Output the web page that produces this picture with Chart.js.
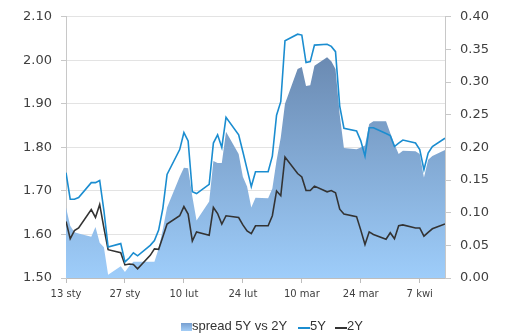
<!DOCTYPE html>
<html>
<head>
<meta charset="utf-8">
<script src="https://cdn.jsdelivr.net/npm/chart.js@4"></script>
<style>
  html, body { margin: 0; padding: 0; background: #fff; }
  #wrap { position: relative; width: 508px; height: 335px; }
  #legend { position: absolute; top: 318px; left: 0; width: 508px; height: 16px;
            font: 13px "Liberation Sans", Arial, sans-serif; color: #333; line-height: 15px; }
  #legend span { position: absolute; top: 0; white-space: nowrap; }
  #legend .box { top: 5px; width: 11px; height: 8px;
                 background: linear-gradient(#779fd0, #a3cdf6); }
  #legend .ln { top: 9px; width: 12px; height: 2px; }
</style>
</head>
<body>
<div id="wrap">
  <canvas id="c" width="508" height="335"></canvas>
  <div id="legend">
    <span class="box" style="left:181px"></span>
    <span style="left:192px">spread 5Y vs 2Y</span>
    <span class="ln" style="left:298px;background:#1b8dd0"></span>
    <span style="left:310px">5Y</span>
    <span class="ln" style="left:335px;background:#333"></span>
    <span style="left:347px">2Y</span>
  </div>
</div>
<script>
// Trading days, 2015
const dates = [
  '2015-01-13','2015-01-14','2015-01-15','2015-01-16','2015-01-19','2015-01-20','2015-01-21','2015-01-22','2015-01-23',
  '2015-01-26','2015-01-27','2015-01-28','2015-01-29','2015-01-30',
  '2015-02-02','2015-02-03','2015-02-04','2015-02-05','2015-02-06',
  '2015-02-09','2015-02-10','2015-02-11','2015-02-12','2015-02-13',
  '2015-02-16','2015-02-17','2015-02-18','2015-02-19','2015-02-20',
  '2015-02-23','2015-02-24','2015-02-25','2015-02-26','2015-02-27',
  '2015-03-02','2015-03-03','2015-03-04','2015-03-05','2015-03-06',
  '2015-03-09','2015-03-10','2015-03-11','2015-03-12','2015-03-13',
  '2015-03-16','2015-03-17','2015-03-18','2015-03-19','2015-03-20',
  '2015-03-23','2015-03-24','2015-03-25','2015-03-26','2015-03-27',
  '2015-03-30','2015-03-31','2015-04-01','2015-04-02','2015-04-03',
  '2015-04-06','2015-04-07','2015-04-08','2015-04-09','2015-04-10',
  '2015-04-13'
];

// Yields, %
const y5 = [
  1.742,1.681,1.681,1.685,1.719,1.719,1.724,1.655,1.571,
  1.579,1.537,1.546,1.558,1.551,
  1.575,1.586,1.610,1.660,1.738,
  1.795,1.834,1.815,1.698,1.694,
  1.715,1.810,1.829,1.800,1.869,
  1.829,1.790,1.750,1.710,1.744,
  1.744,1.780,1.874,1.905,2.045,
  2.060,2.058,1.995,1.997,2.035,
  2.037,2.032,2.020,1.895,1.844,
  1.838,1.815,1.780,1.845,1.845,
  1.832,1.827,1.802,1.810,1.817,
  1.810,1.795,1.749,1.787,1.802,
  1.821
];
const y2 = [
  1.630,1.590,1.609,1.615,1.657,1.639,1.669,1.615,1.565,
  1.558,1.530,1.532,1.531,1.521,
  1.552,1.567,1.566,1.595,1.624,
  1.643,1.664,1.647,1.585,1.606,
  1.598,1.662,1.648,1.624,1.643,
  1.639,1.622,1.608,1.602,1.620,
  1.620,1.643,1.700,1.689,1.778,
  1.740,1.732,1.701,1.701,1.711,
  1.698,1.701,1.696,1.658,1.647,
  1.641,1.610,1.577,1.606,1.600,
  1.589,1.604,1.590,1.620,1.622,
  1.615,1.615,1.596,1.605,1.613,
  1.624
];
// Spread 5Y vs 2Y, percentage points (right axis)
const spread = [
  0.108,0.080,0.070,0.068,0.063,0.078,0.054,0.047,0.005,
  0.018,0.009,0.018,0.025,0.025,
  0.025,0.025,0.045,0.075,0.108,
  0.155,0.169,0.168,0.125,0.088,
  0.117,0.179,0.176,0.176,0.224,
  0.190,0.155,0.140,0.108,0.123,
  0.122,0.137,0.180,0.215,0.267,
  0.320,0.323,0.294,0.295,0.325,
  0.338,0.332,0.320,0.250,0.199,
  0.197,0.200,0.203,0.236,0.240,
  0.240,0.222,0.205,0.190,0.195,
  0.194,0.190,0.154,0.181,0.187,
  0.196
];

// Axis labels, one every two weeks from the first date
const tickLabels = ['13 sty','27 sty','10 lut','24 lut','10 mar','24 mar','7 kwi'];

const DAY = 86400000;
const t0 = Date.parse(dates[0]);
const dayIdx = dates.map(d => Math.round((Date.parse(d) - t0) / DAY));
const pts = arr => arr.map((v, i) => ({ x: dayIdx[i], y: v }));

const axisFont = { family: 'DejaVu Sans', size: 13 };
const tickColor = '#404040';

new Chart(document.getElementById('c'), {
  type: 'line',
  data: {
    datasets: [
      {
        label: '5Y', data: pts(y5), yAxisID: 'y', order: 1,
        borderColor: '#1b8dd0', borderWidth: 1.6, pointRadius: 0, tension: 0, fill: false
      },
      {
        label: '2Y', data: pts(y2), yAxisID: 'y', order: 2,
        borderColor: '#333333', borderWidth: 1.6, pointRadius: 0, tension: 0, fill: false
      },
      {
        label: 'spread 5Y vs 2Y', data: pts(spread), yAxisID: 'y2', order: 3,
        borderWidth: 0, pointRadius: 0, tension: 0, fill: 'origin',
        backgroundColor: (ctx) => {
          const area = ctx.chart.chartArea;
          if (!area) return '#86acd8';
          const g = ctx.chart.ctx.createLinearGradient(0, area.top, 0, area.bottom);
          g.addColorStop(0, '#617ea5');
          g.addColorStop(1, '#9ecdfa');
          return g;
        }
      }
    ]
  },
  options: {
    responsive: false,
    animation: false,
    layout: { padding: { top: 14, left: 0, right: 0, bottom: 0 } },
    plugins: { legend: { display: false }, tooltip: { enabled: false } },
    scales: {
      x: {
        type: 'linear', min: 0, max: dayIdx[dayIdx.length - 1],
        afterFit: s => { s.height = 57; },
        border: { color: '#bdbdbd' },
        grid: { drawOnChartArea: false, tickLength: 5, color: '#bdbdbd' },
        ticks: {
          stepSize: 14, autoSkip: false, includeBounds: false, maxRotation: 0,
          padding: 5, color: tickColor, font: { family: 'DejaVu Sans', size: 10 },
          callback: v => tickLabels[v / 14] || ''
        }
      },
      y: {
        position: 'left', min: 1.5, max: 2.1,
        afterFit: s => { s.width = 66; },
        border: { color: '#c8c8c8' },
        grid: { color: '#e3e3e3', tickLength: 5, tickColor: '#c8c8c8' },
        ticks: { stepSize: 0.1, padding: 9, color: tickColor, font: axisFont,
                 callback: v => v.toFixed(2) }
      },
      y2: {
        position: 'right', min: 0, max: 0.4,
        afterFit: s => { s.width = 63; },
        border: { color: '#c8c8c8' },
        grid: { drawOnChartArea: false, tickLength: 6, color: '#c8c8c8' },
        ticks: { stepSize: 0.05, padding: 9, color: tickColor, font: axisFont,
                 callback: v => v.toFixed(2) }
      }
    }
  }
});
</script>
</body>
</html>
